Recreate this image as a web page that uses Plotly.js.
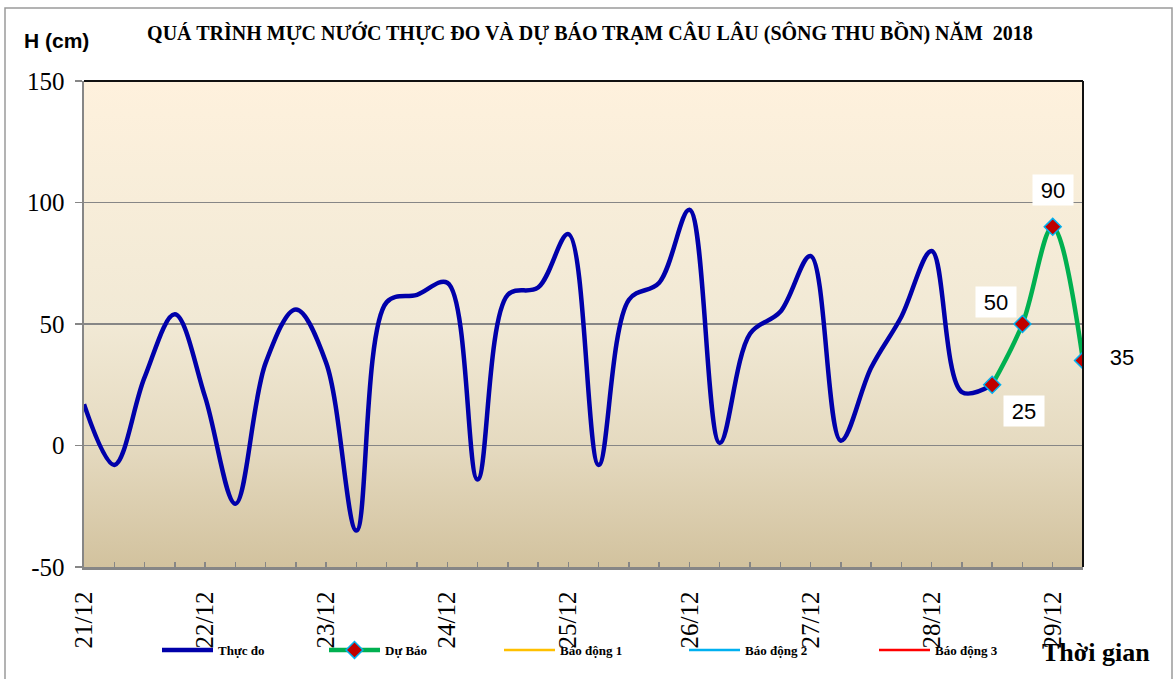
<!DOCTYPE html>
<html>
<head>
<meta charset="utf-8">
<script src="https://cdn.plot.ly/plotly-3.0.1.min.js"></script>
<style>
  html, body { margin: 0; padding: 0; background: #ffffff; }
  #chart { width: 1175px; height: 679px; }
</style>
</head>
<body>
<div id="chart"></div>
<script>
// ---- Data ----
const obsTime = [
  '2018-12-21 00:00','2018-12-21 06:00','2018-12-21 12:00','2018-12-21 18:00',
  '2018-12-22 00:00','2018-12-22 06:00','2018-12-22 12:00','2018-12-22 18:00',
  '2018-12-23 00:00','2018-12-23 06:00','2018-12-23 12:00','2018-12-23 18:00',
  '2018-12-24 00:00','2018-12-24 06:00','2018-12-24 12:00','2018-12-24 18:00',
  '2018-12-25 00:00','2018-12-25 06:00','2018-12-25 12:00','2018-12-25 18:00',
  '2018-12-26 00:00','2018-12-26 06:00','2018-12-26 12:00','2018-12-26 18:00',
  '2018-12-27 00:00','2018-12-27 06:00','2018-12-27 12:00','2018-12-27 18:00',
  '2018-12-28 00:00','2018-12-28 06:00','2018-12-28 12:00'
];
const obsLevel = [17, -8, 28, 54, 20, -24, 34, 56, 34, -35, 59, 62, 67, -14, 62, 65,
                  87, -8, 60, 67, 97, 1, 46, 55, 78, 2, 32, 53, 80, 22, 25];

const fcTime = ['2018-12-28 12:00','2018-12-28 18:00','2018-12-29 00:00','2018-12-29 06:00'];
const fcLevel = [25, 50, 90, 35];

const alarmTime = ['2018-12-21 00:00','2018-12-29 06:00'];
const alarm1 = [200, 200];
const alarm2 = [300, 300];
const alarm3 = [400, 400];

const yTickVals = [-50, 0, 50, 100, 150];
const yTickText = ['-50', '0', '50', '100', '150'];

const seriesNames = ['Thực đo', 'Dự Báo', 'Báo động 1', 'Báo động 2', 'Báo động 3'];
const chartTitle = 'QUÁ TRÌNH MỰC NƯỚC THỰC ĐO VÀ DỰ BÁO TRẠM CÂU LÂU (SÔNG THU BỒN) NĂM  2018';
const yTitle = 'H (cm)';
const xTitle = 'Thời gian';
const xRange = ['2018-12-21 00:00', '2018-12-29 06:00'];
const yRange = [-50, 150];

// ---- Layout geometry (px) ----
const W = 1175, H = 679;
const M = {l: 84, r: 92, t: 81, b: 112};
const PW = W - M.l - M.r, PH = H - M.t - M.b;
const px = x => (x - M.l) / PW;
const py = y => (H - M.b - y) / PH;

// label offsets for forecast data labels (px: right, down)
const labelOffsets = [[32, 26], [-26, -22], [0, -37], [39, -3]];
const labelBoxed = [true, true, true, false];
// legend entry text start positions (px)
const legendTextX = [218, 385, 560, 745, 935];

const gridColor = '#868686';
const serif = 'Liberation Serif, Times New Roman, serif';
const sans = 'Liberation Sans, Arial, sans-serif';

const gradSvg = '<svg xmlns="http://www.w3.org/2000/svg" width="100" height="100" preserveAspectRatio="none">' +
  '<defs><linearGradient id="g" x1="0" y1="0" x2="0" y2="1">' +
  '<stop offset="0" stop-color="#FEF1DD"/>' +
  '<stop offset="0.25" stop-color="#F7EDD9"/>' +
  '<stop offset="0.5" stop-color="#F1E9D5"/>' +
  '<stop offset="0.75" stop-color="#E5DAC0"/>' +
  '<stop offset="1" stop-color="#D2C29E"/>' +
  '</linearGradient></defs><rect width="100" height="100" fill="url(#g)"/></svg>';
const gradUri = 'data:image/svg+xml;charset=utf-8,' + encodeURIComponent(gradSvg);

const legendIds = ['legend', 'legend2', 'legend3', 'legend4', 'legend5'];

const traces = [
  {
    x: obsTime, y: obsLevel, name: seriesNames[0], type: 'scatter', mode: 'lines',
    line: {color: '#0000AA', width: 4.5, shape: 'spline', smoothing: 1}
  },
  {
    x: fcTime, y: fcLevel, name: seriesNames[1], type: 'scatter', mode: 'lines+markers',
    line: {color: '#00B050', width: 4.5, shape: 'spline', smoothing: 1},
    marker: {symbol: 'diamond', size: 13, color: '#C00000', line: {color: '#00B0F0', width: 1.5}}
  },
  {
    x: alarmTime, y: alarm1, name: seriesNames[2], type: 'scatter', mode: 'lines',
    line: {color: '#FFC000', width: 2.5}
  },
  {
    x: alarmTime, y: alarm2, name: seriesNames[3], type: 'scatter', mode: 'lines',
    line: {color: '#00B0F0', width: 2.5}
  },
  {
    x: alarmTime, y: alarm3, name: seriesNames[4], type: 'scatter', mode: 'lines',
    line: {color: '#FF0000', width: 2.5}
  }
];
traces.forEach((t, i) => { t.legend = legendIds[i]; });

const annotations = fcTime.map((t, i) => ({
  x: t, y: fcLevel[i], xref: 'x', yref: 'y',
  xanchor: 'center', yanchor: 'middle',
  text: String(fcLevel[i]), showarrow: false,
  xshift: labelOffsets[i][0], yshift: -labelOffsets[i][1],
  font: {family: sans, size: 22, color: '#000'},
  bgcolor: labelBoxed[i] ? '#FFFFFF' : 'rgba(0,0,0,0)',
  width: 38, height: 28, borderpad: 1
}));
annotations.push({
  xref: 'paper', yref: 'paper', x: px(56), y: py(40), xanchor: 'center', yanchor: 'middle',
  text: yTitle, showarrow: false,
  font: {family: sans, size: 21, color: '#000', weight: 700}
});
annotations.push({
  xref: 'paper', yref: 'paper', x: px(1096), y: py(652), xanchor: 'center', yanchor: 'middle',
  text: xTitle, showarrow: false,
  font: {family: serif, size: 26, color: '#000', weight: 700}
});

const layout = {
  width: W, height: H,
  margin: M,
  paper_bgcolor: '#FFFFFF',
  plot_bgcolor: 'rgba(0,0,0,0)',
  showlegend: true,
  title: {
    text: chartTitle, xref: 'paper', x: px(590), xanchor: 'center',
    yref: 'container', y: 1 - 33 / H, yanchor: 'middle',
    font: {family: serif, size: 20, color: '#000', weight: 700}
  },
  xaxis: {
    type: 'date', range: xRange,
    tickformat: '%d/%m', dtick: 86400000, tick0: '2018-12-21 00:00',
    tickangle: -90,
    tickfont: {family: serif, size: 25, color: '#000'},
    ticks: 'inside', ticklen: 5, tickwidth: 1.5, tickcolor: gridColor,
    ticklabelstandoff: 12,
    minor: {dtick: 6 * 3600000, ticks: 'inside', ticklen: 5, tickwidth: 1.5, tickcolor: gridColor, showgrid: false},
    showgrid: false, zeroline: false,
    showline: true, linecolor: gridColor, linewidth: 2.5,
    fixedrange: true
  },
  yaxis: {
    range: yRange, tickmode: 'array', tickvals: yTickVals, ticktext: yTickText,
    tickfont: {family: serif, size: 25, color: '#000'},
    ticks: 'outside', ticklen: 7, tickwidth: 1.5, tickcolor: gridColor,
    ticklabelstandoff: 5,
    showgrid: true, gridcolor: gridColor, gridwidth: 1.5,
    zeroline: false,
    showline: true, linecolor: gridColor, linewidth: 2.5,
    fixedrange: true
  },
  images: [{
    source: gradUri, xref: 'paper', yref: 'paper', x: 0, y: 1, sizex: 1, sizey: 1,
    xanchor: 'left', yanchor: 'top', sizing: 'stretch', layer: 'below'
  }],
  shapes: [
    {type: 'line', xref: 'paper', yref: 'paper', x0: 0, x1: 1, y0: 1, y1: 1, line: {color: '#111111', width: 2}},
    {type: 'line', xref: 'paper', yref: 'paper', x0: 1, x1: 1, y0: 0, y1: 1, line: {color: '#111111', width: 2}},
    {type: 'rect', xref: 'paper', yref: 'paper', x0: px(5), x1: px(1172), y0: py(690), y1: py(8),
     line: {color: '#9A9A9A', width: 1.5}, fillcolor: 'rgba(0,0,0,0)', layer: 'above'}
  ],
  annotations: annotations
};

const ITEMW = 51;
legendIds.forEach((id, i) => {
  layout[id] = {
    orientation: 'h',
    x: px(legendTextX[i] - ITEMW - 10), xanchor: 'left',
    y: py(650), yanchor: 'middle',
    font: {family: serif, size: 13, color: '#000', weight: 700},
    bgcolor: 'rgba(0,0,0,0)', borderwidth: 0,
    itemwidth: ITEMW
  };
});

Plotly.newPlot('chart', traces, layout, {staticPlot: true, displayModeBar: false});
</script>
</body>
</html>
